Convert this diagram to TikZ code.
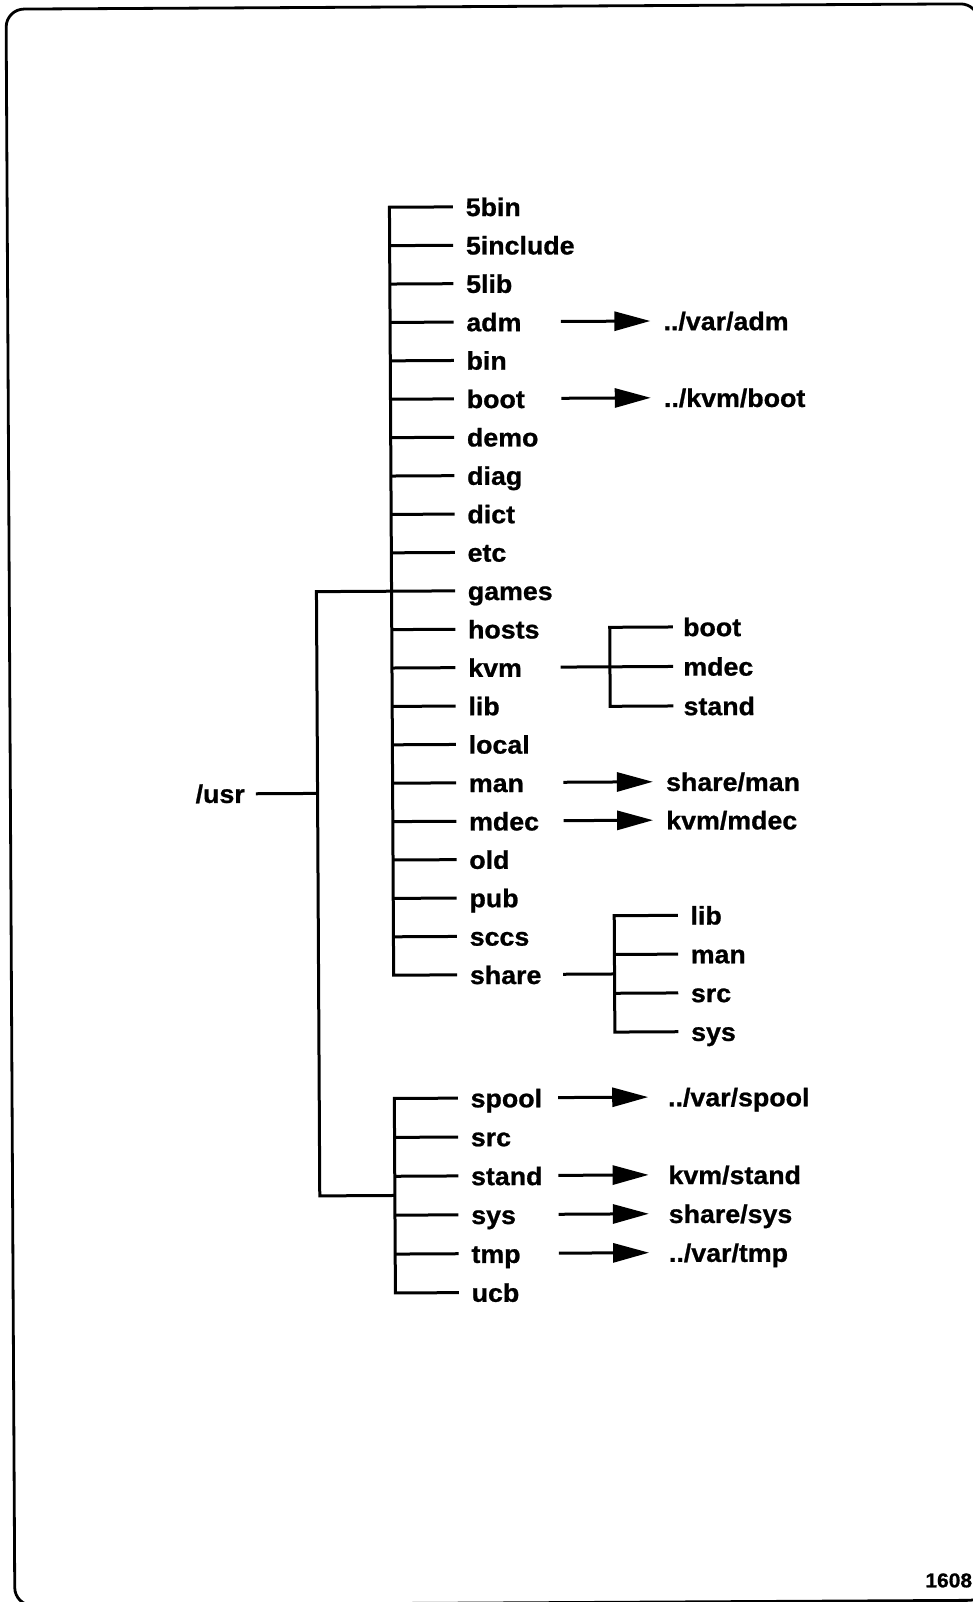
\documentclass[tikz,border=0pt]{standalone}
\usepackage{fontspec}
\setmainfont{Liberation Sans}[FakeStretch=1.05,BoldFeatures={FakeBold=0.9}]
\usetikzlibrary{arrows.meta}
\begin{document}
\begin{tikzpicture}[x=1pt,y=-1pt,
  wire/.style={line width=3pt},
  link/.style={line width=3pt,-{Triangle[length=36pt,width=19pt]}},
  entry/.style={anchor=west,inner ysep=0pt,inner xsep=12.6pt,
    text height=18.3pt,text depth=0pt,
    font=\fontsize{25.5}{29}\selectfont\bfseries},
  frame/.style={line width=2.8pt,rounded corners=18pt}]
\useasboundingbox (0,0) rectangle (972,1602);
\begin{scope}[rotate around={0.315:(486,801)}]
% page frame
\draw[frame] (10.4,6.5) rectangle (983,1603);

% upper group of /usr entries
\foreach \t [count=\i from 0] in {5bin,5include,5lib,adm,bin,boot,demo,diag,dict,etc,games,hosts,kvm,lib,local,man,mdec,old,pub,sccs,share} {
  \node[entry] (m\i) at (456.2,206.7+38.4*\i) {\t};
  \coordinate (mj\i) at (392.7,206.7+38.4*\i);
}
\draw[wire] (m0.west) -- (mj0) -- (mj20) -- (m20.west);
\foreach \i in {1,...,19} \draw[wire] (mj\i) -- (m\i.west);

% lower group of /usr entries
\foreach \t [count=\i from 0] in {spool,src,stand,sys,tmp,ucb} {
  \node[entry] (l\i) at (456.2,1098+38.9*\i) {\t};
  \coordinate (lj\i) at (392.7,1098+38.9*\i);
}
\draw[wire] (l0.west) -- (lj0) -- (lj5) -- (l5.west);
\foreach \i in {1,...,4} \draw[wire] (lj\i) -- (l\i.west);

% the /usr root and its two-way split
\coordinate (ltop) at (317.6,590.7);
\coordinate (lbot) at (317.6,1195);
\coordinate (lmid) at (392.7,1195);
\coordinate (uj) at (317.6,792.5);
\node[entry,anchor=east,inner xsep=11pt] (usr) at (256,792.5) {/usr};
\draw[wire] (mj10) -- (ltop) -- (lbot) -- (lmid);
\draw[wire] (usr.east) -- (uj);

% symbolic links, upper group
\tikzset{uplink/.style={entry,inner xsep=13pt}}
\coordinate (a3) at (563.5,321.9);
\coordinate (a5) at (563.5,398.7);
\coordinate (a15) at (563.5,782.7);
\coordinate (a16) at (563.5,821.1);
\node[uplink] (t3) at (653,321.9) {../var/adm};
\node[uplink] (t5) at (653,398.7) {../kvm/boot};
\node[uplink] (t15) at (653,782.7) {share/man};
\node[uplink] (t16) at (653,821.1) {kvm/mdec};
\foreach \i in {3,5,15,16} \draw[link] (a\i) -- (t\i.west);

% symbolic links, lower group
\tikzset{lowlink/.style={entry,inner xsep=19.7pt}}
\coordinate (b0) at (556.4,1098);
\coordinate (b2) at (556.4,1175.8);
\coordinate (b3) at (556.4,1214.7);
\coordinate (b4) at (556.4,1253.6);
\node[lowlink] (u0) at (646.6,1098) {../var/spool};
\node[lowlink] (u2) at (646.6,1175.8) {kvm/stand};
\node[lowlink] (u3) at (646.6,1214.7) {share/sys};
\node[lowlink] (u4) at (646.6,1253.6) {../var/tmp};
\foreach \i in {0,2,3,4} \draw[link] (b\i) -- (u\i.west);

% kvm subtree
\coordinate (kj) at (561.4,667.5);
\node[entry,inner xsep=10pt] (k0) at (673.9,628) {boot};
\node[entry,inner xsep=10pt] (k1) at (673.9,667.5) {mdec};
\node[entry,inner xsep=10pt] (k2) at (673.9,707) {stand};
\coordinate (kt) at (610.7,628);
\coordinate (kb) at (610.7,707);
\draw[wire] (kj) -- (k1.west);
\draw[wire] (k0.west) -- (kt) -- (kb) -- (k2.west);

% share subtree
\coordinate (sj) at (562.2,974.7);
\coordinate (sv) at (613.6,974.7);
\foreach \t [count=\i from 0] in {lib,man,src,sys} {
  \node[entry,inner xsep=12.5pt] (s\i) at (677.2,916.4+38.8*\i) {\t};
  \coordinate (sk\i) at (613.6,916.4+38.8*\i);
}
\draw[wire] (sj) -- (sv);
\draw[wire] (s0.west) -- (sk0) -- (sk3) -- (s3.west);
\draw[wire] (sk1) -- (s1.west);
\draw[wire] (sk2) -- (s2.west);

% figure number
\node[anchor=base east,inner sep=0pt,font=\fontsize{20}{24}\selectfont\bfseries] (fig) at (968,1590) {1608};
\end{scope}
\end{tikzpicture}
\end{document}
